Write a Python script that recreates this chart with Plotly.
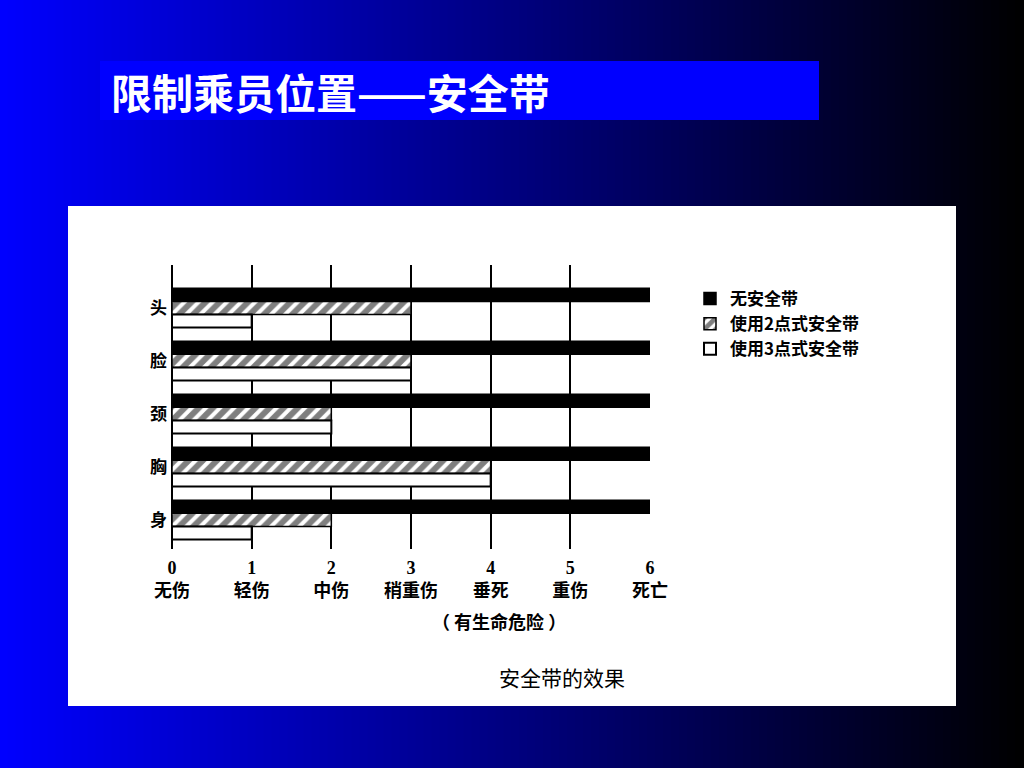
import plotly.graph_objects as go

categories = ["头", "脸", "颈", "胸", "身"]
no_belt = [6, 6, 6, 6, 6]
belt_2pt = [3, 3, 2, 4, 2]
belt_3pt = [1, 3, 2, 4, 1]
tick_vals = [0, 1, 2, 3, 4, 5, 6]
tick_words = ["无伤", "轻伤", "中伤", "稍重伤", "垂死", "重伤", "死亡"]
series_names = ["无安全带", "使用2点式安全带", "使用3点式安全带"]

W, H = 1024, 768
PL, PR, PT, PB = 172, 650, 265, 549

def px(x):
    return (x - PL) / (PR - PL)

def py(y):
    return (PB - y) / (PB - PT)

CJK = "Noto Sans CJK SC"
NUMF = "Liberation Serif, Noto Sans CJK SC"

fig = go.Figure()
fig.add_trace(go.Bar(
    y=categories, x=no_belt, name=series_names[0], orientation="h",
    marker=dict(color="black", line=dict(color="black", width=1.5)),
))
fig.add_trace(go.Bar(
    y=categories, x=belt_2pt, name=series_names[1], orientation="h",
    marker=dict(color="white", line=dict(color="black", width=1.5),
                pattern=dict(shape="/", fgcolor="black", bgcolor="white",
                             size=10, solidity=0.6)),
))
fig.add_trace(go.Bar(
    y=categories, x=belt_3pt, name=series_names[2], orientation="h",
    marker=dict(color="white", line=dict(color="black", width=2)),
))

shapes = []
# horizontal gradient background (blue -> black)
N = 128
sw = W / N
for i in range(N):
    b = int(round(255 * (1 - (i + 0.5) / N)))
    shapes.append(dict(type="rect", xref="paper", yref="paper",
                       x0=px(i * sw - 0.5), x1=px((i + 1) * sw + 0.5),
                       y0=py(H + 2), y1=py(-2),
                       fillcolor=f"rgb(0,0,{b})", line=dict(width=0),
                       layer="below"))
# white panel
shapes.append(dict(type="rect", xref="paper", yref="paper",
                   x0=px(68), x1=px(956), y0=py(706), y1=py(206),
                   fillcolor="white", line=dict(width=0), layer="below"))
# title box
shapes.append(dict(type="rect", xref="paper", yref="paper",
                   x0=px(100), x1=px(819), y0=py(120), y1=py(61),
                   fillcolor="#0000FF", line=dict(width=0), layer="below"))

annotations = [
    dict(text="限制乘员位置——安全带", xref="paper", yref="paper",
         x=px(109), y=py(91), xanchor="left", yanchor="middle",
         showarrow=False,
         font=dict(family=CJK, size=41, color="white", weight="bold")),
    dict(text="（ 有生命危险 ）", xref="x", yref="paper",
         x=4.1, y=py(621), xanchor="center", yanchor="middle",
         showarrow=False,
         font=dict(family=CJK, size=18, color="black", weight="bold")),
    dict(text="安全带的效果", xref="paper", yref="paper",
         x=px(562), y=py(677), xanchor="center", yanchor="middle",
         showarrow=False,
         font=dict(family=CJK, size=21, color="black")),
]

fig.update_layout(
    width=W, height=H,
    margin=dict(l=PL, r=W - PR, t=PT, b=H - PB, pad=0),
    paper_bgcolor="black", plot_bgcolor="rgba(0,0,0,0)",
    barmode="group", bargap=0.26, bargroupgap=0,
    shapes=shapes, annotations=annotations,
    showlegend=True,
    legend=dict(xref="container", yref="container",
                x=690 / W, y=1 - 281 / H, xanchor="left", yanchor="top",
                bgcolor="rgba(0,0,0,0)", traceorder="normal",
                font=dict(family=CJK, size=17, color="black", weight="bold"),
                itemwidth=30, tracegroupgap=0),
    xaxis=dict(range=[0, 6], tickvals=tick_vals,
               ticktext=[f"{v}<br>{w}" for v, w in zip(tick_vals, tick_words)],
               showgrid=True, gridcolor="black", gridwidth=2,
               zeroline=True, zerolinecolor="black", zerolinewidth=2,
               showline=False, ticks="", ticklabelstandoff=6,
               tickfont=dict(family=NUMF, size=18, color="black", weight="bold"),
               fixedrange=True),
    yaxis=dict(categoryorder="array", categoryarray=categories,
               range=[4.55, -0.81], showgrid=False, zeroline=False,
               showline=False, ticks="", ticklabelstandoff=4,
               tickfont=dict(family=CJK, size=17, color="black", weight="bold"),
               fixedrange=True),
)

fig.write_html(
    "out.html",
    config={"displayModeBar": False, "staticPlot": False},
    post_script="document.body.style.margin='0';document.body.style.padding='0';document.body.style.overflow='hidden';",
)
